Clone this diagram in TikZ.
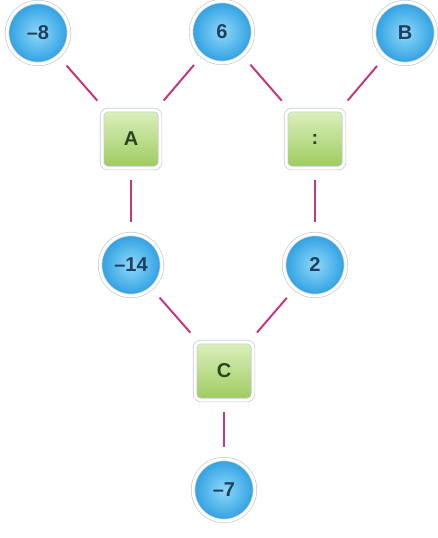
\documentclass[tikz,border=0pt]{standalone}
\usepackage{fontspec}
\setmainfont{Liberation Sans}
\definecolor{linkc}{HTML}{C5387F}
\definecolor{bluein}{HTML}{8FD8F8}
\definecolor{blueout}{HTML}{2C9FE2}
\definecolor{bluetext}{HTML}{1F3F5E}
\definecolor{greentop}{HTML}{DCEFBE}
\definecolor{greenbot}{HTML}{9DCB5E}
\definecolor{greentext}{HTML}{2C4420}
\definecolor{rimc}{HTML}{C2CCD2}
\begin{document}
\begin{tikzpicture}[x=1pt,y=-1pt,
  num/.style={circle, minimum size=61.8pt, inner sep=0pt, inner color=bluein, outer color=blueout,
    draw=rimc, line width=0.7pt, double=white, double distance=3pt,
    text=bluetext, font=\bfseries\fontsize{20}{20}\selectfont},
  op/.style={rectangle, rounded corners=6pt, minimum size=58pt, inner sep=0pt,
    top color=greentop, bottom color=greenbot,
    draw=rimc, line width=0.7pt, double=white, double distance=3pt,
    text=greentext, font=\bfseries\fontsize{20}{20}\selectfont},
  link/.style={draw=linkc, line width=2pt, shorten >=12pt, shorten <=12pt}]
\useasboundingbox (0,0) rectangle (437,538);
\node[num] (m8) at (38,33) {–8};
\node[num] (six) at (222,32) {6};
\node[num] (b) at (405,33) {B};
\node[op] (a) at (131,139) {A};
\node[op] (d) at (315,139) {:};
\node[num] (m14) at (131,265) {–14};
\node[num] (two) at (315,265) {2};
\node[op] (c) at (224,371) {C};
\node[num] (m7) at (224,490) {–7};
\draw[link] (m8) -- (a);
\draw[link] (six) -- (a);
\draw[link] (six) -- (d);
\draw[link] (b) -- (d);
\draw[link] (a) -- (m14);
\draw[link] (d) -- (two);
\draw[link] (m14) -- (c);
\draw[link] (two) -- (c);
\draw[link] (c) -- (m7);
\end{tikzpicture}
\end{document}
